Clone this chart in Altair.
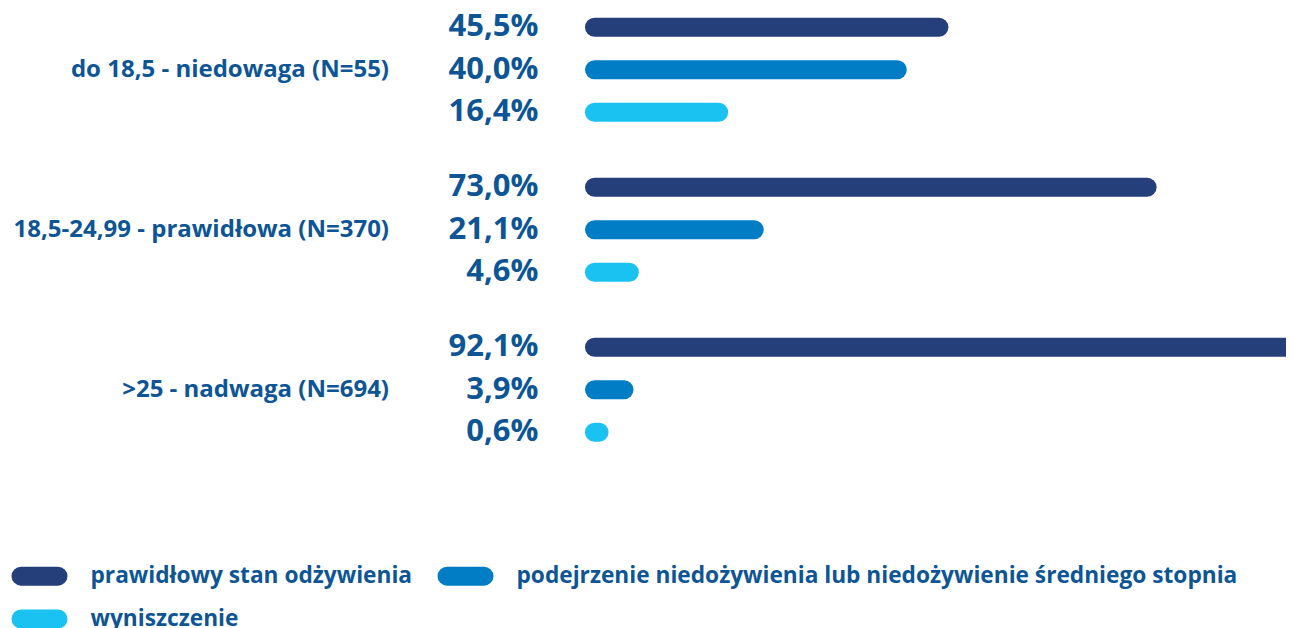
import altair as alt
import pandas as pd

groups = ["do 18,5 - niedowaga (N=55)", "18,5-24,99 - prawidłowa (N=370)", ">25 - nadwaga (N=694)"]
series = [
    "prawidłowy stan odżywienia",
    "podejrzenie niedożywienia lub niedożywienie średniego stopnia",
    "wyniszczenie",
]
prawidlowy = [45.5, 73.0, 92.1]
podejrzenie = [40.0, 21.1, 3.9]
wyniszczenie = [16.4, 4.6, 0.6]
colors = ["#253F7B", "#007DC5", "#19C2F1"]

rows = []
for gi, g in enumerate(groups):
    for s, vals in zip(series, [prawidlowy, podejrzenie, wyniszczenie]):
        v = vals[gi]
        rows.append({"group": g, "series": s, "value": v,
                     "label": f"{v:.1f}%".replace(".", ",")})
df = pd.DataFrame(rows)

FONT = "Open Sans"
TXT = "#0D5595"
CAPSULE = ("M-1.85,-0.475 L1.85,-0.475 A0.475,0.475 0 0 1 1.85,0.475 "
           "L-1.85,0.475 A0.475,0.475 0 0 1 -1.85,-0.475 Z")

base = alt.Chart(df).encode(
    y=alt.Y("group:N", sort=groups,
            scale=alt.Scale(paddingInner=0.203, paddingOuter=0),
            axis=alt.Axis(title=None, domain=False, ticks=False, tickSize=0,
                          labelPadding=206, labelFontSize=24, labelFont=FONT,
                          labelFontWeight="bold", labelColor=TXT, labelLimit=1000)),
    yOffset=alt.YOffset("series:N", sort=series,
                        scale=alt.Scale(paddingInner=0, paddingOuter=0)),
)

bars = base.mark_rule(strokeWidth=19, strokeCap="round").encode(
    x=alt.X("value:Q", scale=alt.Scale(domain=[0, 91.35], nice=False), axis=None),
    x2=alt.datum(0),
    color=alt.Color("series:N", sort=series,
                    scale=alt.Scale(domain=series, range=colors),
                    legend=alt.Legend(title=None, orient="none", legendX=-570, legendY=555,
                                      direction="horizontal", columns=2,
                                      symbolType=CAPSULE, symbolSize=400,
                                      symbolStrokeWidth=9.5, symbolOpacity=1,
                                      labelFontSize=22.7, labelFont=FONT,
                                      labelFontWeight="bold", labelColor=TXT,
                                      labelLimit=2000, labelOffset=36,
                                      rowPadding=-5, columnPadding=10)),
)

texts = base.mark_text(align="right", baseline="middle", dx=-56, font=FONT,
                       fontSize=31, fontWeight="bold", color=TXT).encode(
    x=alt.datum(0),
    text="label:N",
)

chart = alt.layer(bars, texts).properties(
    width=691.5, height=447.5,
    autosize=alt.AutoSizeParams(type="none"),
    padding={"left": 586.5, "top": -2, "right": 0, "bottom": 186.5},
).configure_view(stroke=None)

chart.save("out.html", embed_options={"renderer": "svg", "actions": False})
